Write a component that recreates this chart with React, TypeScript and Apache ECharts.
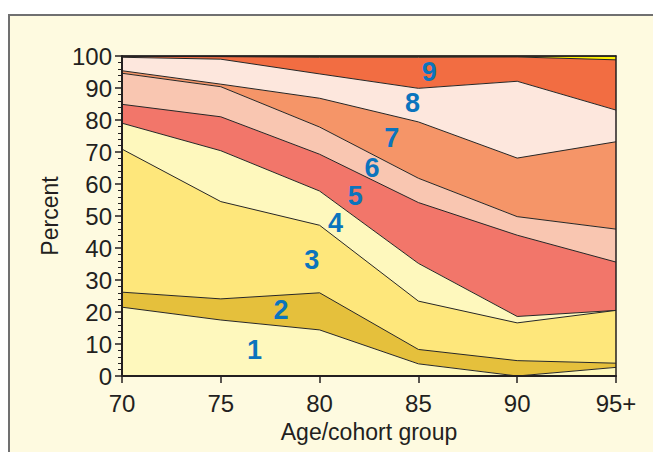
import React, { useEffect, useRef } from "react";
import * as echarts from "echarts";

// Age/cohort categories
const categories = ["70", "75", "80", "85", "90", "95+"];

// Thickness of each stacked layer (percent)
const layer1 = [21.5, 17.5, 14.4, 3.8, 0.0, 2.7];
const layer2 = [4.7, 6.6, 11.6, 4.5, 4.8, 1.3];
const layer3 = [44.7, 30.4, 21.1, 15.1, 11.8, 16.5];
const layer4 = [8.1, 15.9, 10.7, 11.8, 2.0, 0.0];
const layer5 = [5.9, 10.6, 11.5, 19.0, 25.4, 15.1];
const layer6 = [9.7, 9.4, 8.5, 7.6, 5.8, 10.3];
const layer7 = [0.8, 0.8, 9.0, 17.6, 18.3, 27.3];
const layer8 = [4.2, 7.8, 7.6, 10.5, 24.0, 9.9];
const layer9 = [0.3, 0.8, 5.2, 9.7, 7.6, 15.7];
const layer10 = [0.1, 0.2, 0.4, 0.4, 0.3, 1.2];

const layers = [layer1, layer2, layer3, layer4, layer5, layer6, layer7, layer8, layer9, layer10];
const layerColors = [
  "#fef8bd",
  "#e5c03c",
  "#fee77b",
  "#fef8bd",
  "#f2766a",
  "#f9c6b1",
  "#f59568",
  "#fde7dd",
  "#f26d42",
  "#fff200",
];

// In-chart layer labels (age position, percent position)
const labelNames = ["1", "2", "3", "4", "5", "6", "7", "8", "9"];
const labelAges = [76.7, 78.05, 79.6, 80.8, 81.8, 82.65, 83.65, 84.7, 85.55];
const labelPercents = [8.1, 20.6, 36.2, 47.8, 56.2, 65.0, 74.4, 85.3, 95.0];

const yTicks = { min: 0, max: 100, interval: 10 };

const FONT = "'Liberation Sans', Arial, Helvetica, sans-serif";
const INK = "#231f20";
const LABEL_BLUE = "#0b74bd";

export default function App() {
  const ref = useRef<HTMLDivElement>(null);

  useEffect(() => {
    if (!ref.current) return;
    const chart = echarts.init(ref.current, undefined, { renderer: "svg" });

    const areaSeries = layers.map((d, i) => ({
      type: "line",
      name: "L" + (i + 1),
      stack: "total",
      data: d,
      xAxisIndex: 0,
      yAxisIndex: 0,
      showSymbol: false,
      symbol: "none",
      z: 30 - i,
      lineStyle: { color: "#262626", width: i === layers.length - 1 ? 1.5 : 1 },
      areaStyle: { color: layerColors[i], opacity: 1 },
      itemStyle: { color: layerColors[i] },
      silent: true,
    }));

    const labelSeries = {
      type: "scatter",
      xAxisIndex: 1,
      yAxisIndex: 0,
      symbolSize: 1,
      z: 40,
      itemStyle: { color: LABEL_BLUE, opacity: 0 },
      label: {
        show: true,
        position: "inside",
        formatter: (p: any) => p.name,
        color: LABEL_BLUE,
        opacity: 1,
        textBorderWidth: 0,
        fontSize: 27,
        fontWeight: "bold",
        fontFamily: FONT,
      },
      data: labelNames.map((n, i) => ({ name: n, value: [labelAges[i], labelPercents[i]] })),
      silent: true,
    };

    chart.setOption({
      animation: false,
      backgroundColor: "transparent",
      grid: { left: 122, right: 37, top: 56, bottom: 76, containLabel: false },
      xAxis: [
        {
          type: "category",
          data: categories,
          boundaryGap: false,
          z: 50,
          axisLine: { show: true, lineStyle: { color: INK, width: 2 } },
          axisTick: { show: true, length: 7, lineStyle: { color: INK, width: 1.5 } },
          axisLabel: { color: INK, fontSize: 24, fontFamily: FONT, margin: 15 },
          splitLine: { show: false },
          name: "Age/cohort group",
          nameLocation: "middle",
          nameGap: 44,
          nameTextStyle: { color: INK, fontSize: 23, fontFamily: FONT },
        },
        {
          type: "value",
          min: 70,
          max: 95,
          show: false,
        },
        {
          type: "category",
          data: categories,
          boundaryGap: false,
          position: "top",
          z: 50,
          axisLine: { show: true, lineStyle: { color: INK, width: 1.5 } },
          axisTick: { show: false },
          axisLabel: { show: false },
          splitLine: { show: false },
        },
      ],
      yAxis: [
        {
          type: "value",
          min: yTicks.min,
          max: yTicks.max,
          interval: yTicks.interval,
          z: 50,
          axisLine: { show: true, lineStyle: { color: INK, width: 2 } },
          axisTick: { show: true, length: 7, lineStyle: { color: INK, width: 1.5 } },
          minorTick: { show: true, splitNumber: 5, length: 4, lineStyle: { color: INK, width: 1 } },
          axisLabel: { color: INK, fontSize: 24, fontFamily: FONT, margin: 10 },
          splitLine: { show: false },
          minorSplitLine: { show: false },
          name: "Percent",
          nameLocation: "middle",
          nameGap: 55,
          nameRotate: 90,
          nameTextStyle: { color: INK, fontSize: 23, fontFamily: FONT },
        },
        {
          type: "value",
          min: yTicks.min,
          max: yTicks.max,
          position: "right",
          z: 50,
          axisLine: { show: true, onZero: false, lineStyle: { color: INK, width: 1.5 } },
          axisTick: { show: false },
          axisLabel: { show: false },
          splitLine: { show: false },
        },
      ],
      series: [...areaSeries, labelSeries],
    });

    return () => chart.dispose();
  }, []);

  return (
    <div
      style={{
        position: "fixed",
        left: 0,
        top: 0,
        width: 653,
        height: 452,
        background: "#ffffff",
        overflow: "hidden",
      }}
    >
      <div
        style={{
          position: "absolute",
          left: 8,
          top: 14,
          width: 720,
          height: 520,
          border: "2px solid #707070",
          background: "#fefae0",
          boxSizing: "border-box",
        }}
      />
      <div ref={ref} style={{ position: "absolute", left: 0, top: 0, width: 653, height: 452 }} />
    </div>
  );
}
